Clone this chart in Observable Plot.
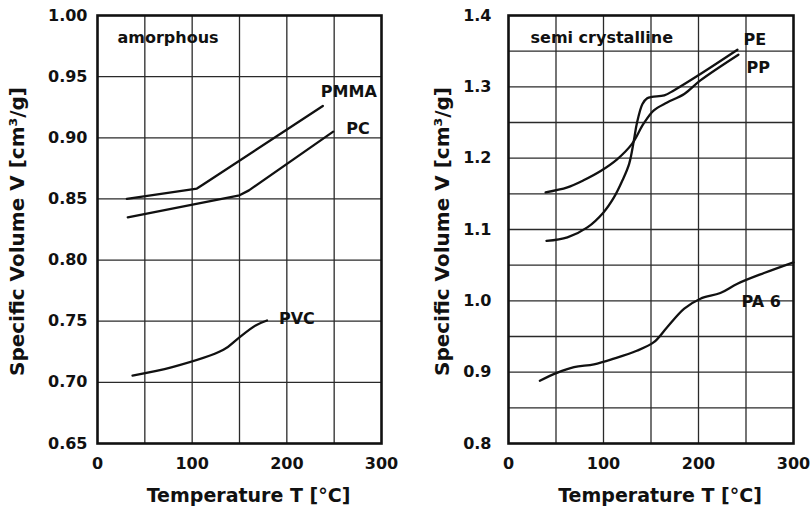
<!DOCTYPE html>
<html>
<head>
<meta charset="utf-8">
<script src="https://cdn.jsdelivr.net/npm/d3@7"></script>
<script src="https://cdn.jsdelivr.net/npm/@observablehq/plot@0.6"></script>
<style>
  html, body { margin: 0; padding: 0; background: #fff; }
  #wrap { display: flex; flex-direction: row; width: 812px; height: 509px; }
</style>
</head>
<body>
<div id="wrap"></div>
<script>
// ---- Data ----
// Amorphous panel
const pmmaT = [31, 105, 112, 238];
const pmmaV = [0.850, 0.8585, 0.862, 0.926];
const pcT = [32, 150, 160, 249];
const pcV = [0.835, 0.853, 0.857, 0.905];
const pvcT = [37, 79, 133, 148, 167, 179];
const pvcV = [0.7056, 0.7124, 0.7266, 0.7356, 0.7465, 0.7506];

// Semi crystalline panel
const peT = [40, 62, 83, 100, 111, 120, 127, 132, 135, 141, 146, 151, 164, 174, 202, 241];
const peV = [1.084, 1.089, 1.103, 1.124, 1.145, 1.169, 1.192, 1.225, 1.248, 1.276, 1.284, 1.286, 1.288, 1.295, 1.318, 1.352];
const ppT = [39, 62, 79, 97, 114, 130, 142, 153, 167, 185, 202, 242];
const ppV = [1.152, 1.159, 1.169, 1.182, 1.198, 1.220, 1.248, 1.267, 1.278, 1.290, 1.309, 1.345];
const pa6T = [33, 51, 69, 90, 111, 135, 153, 167, 185, 202, 223, 241, 269, 300];
const pa6V = [0.888, 0.899, 0.907, 0.911, 0.919, 0.930, 0.942, 0.963, 0.989, 1.003, 1.011, 1.024, 1.039, 1.054];

// Axis ticks
const xTicks = [0, 100, 200, 300];
const xGrid = [50, 100, 150, 200, 250];
const yTicksLeft = [0.65, 0.70, 0.75, 0.80, 0.85, 0.90, 0.95, 1.00];
const yTicksRight = [0.8, 0.9, 1.0, 1.1, 1.2, 1.3, 1.4];
const yGridRight = [0.85, 0.9, 0.95, 1.0, 1.05, 1.1, 1.15, 1.2, 1.25, 1.3, 1.35];

const panelLeftTitle = "amorphous";
const panelRightTitle = "semi crystalline";
const xLabel = "Temperature T [°C]";
const yLabel = "Specific Volume V [cm³/g]";

// ---- Build tables ----
const toRows = (name, T, V) => T.map((t, i) => ({name, T: t, V: V[i]}));
const pmma = toRows("PMMA", pmmaT, pmmaV);
const pc = toRows("PC", pcT, pcV);
const pvc = toRows("PVC", pvcT, pvcV);
const pe = toRows("PE", peT, peV);
const pp = toRows("PP", ppT, ppV);
const pa6 = toRows("PA 6", pa6T, pa6V);

const FONT = "DejaVu Sans";
const gridStyle = {stroke: "#2a2a2a", strokeOpacity: 1, strokeWidth: 1.3};
const lineStyle = {x: "T", y: "V", stroke: "#111", strokeWidth: 2.3};
const lblStyle = {x: "T", y: "V", text: "name", fontSize: 16, fontWeight: "bold", textAnchor: "start", fill: "#111"};

function lastOf(rows) { return [rows[rows.length - 1]]; }

function panel({yDomain, yTicks, yGrid, yFormat, yPad, mLeft, mRight, yLabelDx, title, titleDx, series, labels}) {
  return Plot.plot({
    width: 406,
    height: 509,
    marginLeft: mLeft,
    marginRight: mRight,
    marginTop: 15,
    marginBottom: 66,
    style: {fontFamily: FONT, fontSize: "16px", fontWeight: "bold", color: "#111", background: "#fff", overflow: "visible"},
    x: {domain: [0, 300]},
    y: {domain: yDomain},
    marks: [
      Plot.gridX(xGrid, gridStyle),
      Plot.gridY(yGrid, gridStyle),
      Plot.axisX(xTicks, {tickSize: 0, tickPadding: 14, fontSize: 16, fontWeight: "bold", label: null}),
      Plot.axisY(yTicks, {tickSize: 0, tickPadding: yPad, fontSize: 16, fontWeight: "bold", tickFormat: yFormat, label: null}),
      Plot.text([yLabel], {frameAnchor: "left", text: d => d, rotate: -90, dx: yLabelDx, dy: 2, textAnchor: "middle", lineAnchor: "middle", fontSize: 20, fontWeight: "bold", fill: "#111"}),
      Plot.text([xLabel], {frameAnchor: "bottom", text: d => d, dy: 52, dx: 9, lineAnchor: "middle", fontSize: 19, fontWeight: "bold", fill: "#111"}),
      Plot.text([title], {frameAnchor: "top-left", text: d => d, dx: titleDx, dy: 22, textAnchor: "start", lineAnchor: "middle", fontSize: 16, fontWeight: "bold", fill: "#111"}),
      ...series.map(s => Plot.line(s, {...lineStyle, curve: s.curve || "catmull-rom"})),
      ...labels.map(l => Plot.text(l.rows, {...lblStyle, dx: l.dx, dy: l.dy})),
      Plot.frame({stroke: "#111", strokeWidth: 2.6})
    ]
  });
}

pmma.curve = "linear";
pc.curve = "linear";

const left = panel({
  yDomain: [0.65, 1.0], yTicks: yTicksLeft, yGrid: yTicksLeft.slice(1, -1), yFormat: d => d.toFixed(2), yPad: 10,
  mLeft: 97, mRight: 25, yLabelDx: -80, title: panelLeftTitle, titleDx: 20,
  series: [pmma, pc, pvc],
  labels: [
    {rows: lastOf(pmma), dx: -2, dy: -14},
    {rows: lastOf(pc), dx: 13, dy: -3},
    {rows: lastOf(pvc), dx: 12, dy: -2}
  ]
});

const right = panel({
  yDomain: [0.8, 1.4], yTicks: yTicksRight, yGrid: yGridRight, yFormat: d => d.toFixed(1), yPad: 17,
  mLeft: 102, mRight: 19, yLabelDx: -66, title: panelRightTitle, titleDx: 22,
  series: [pe, pp, pa6],
  labels: [
    {rows: lastOf(pe), dx: 6, dy: -10},
    {rows: lastOf(pp), dx: 8, dy: 13},
    {rows: [pa6[11]], dx: 4, dy: 18}
  ]
});

const wrap = document.getElementById("wrap");
wrap.appendChild(left);
wrap.appendChild(right);
</script>
</body>
</html>
